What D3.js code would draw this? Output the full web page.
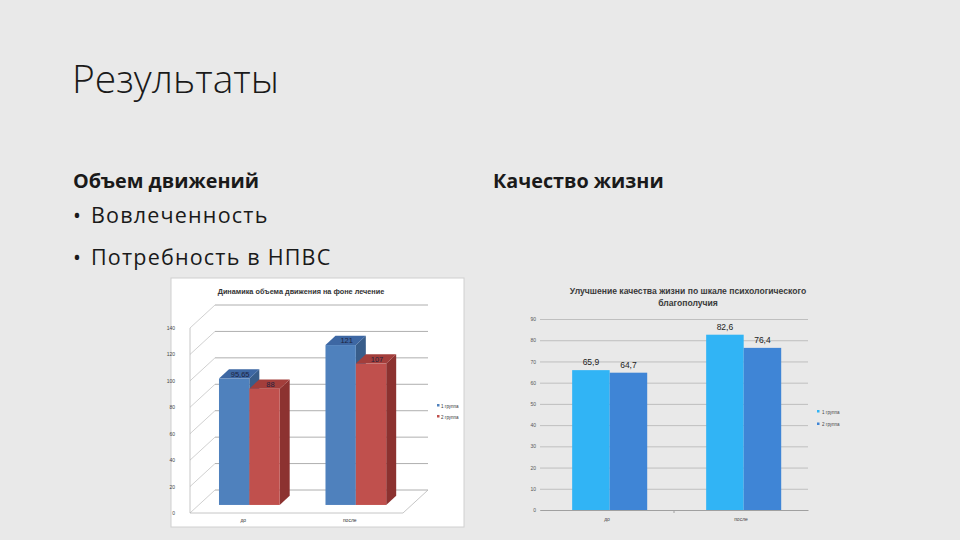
<!DOCTYPE html>
<meta charset="utf-8">
<style>
body { margin: 0; background: #e9e9e9; }
svg { display: block; }
.slide text { font-family: "Open Sans", "Noto Sans", sans-serif; fill: #1a1a1a; }
.chart text { font-family: "Liberation Sans", Arial, sans-serif; }
</style>
<body>
<script src="https://cdnjs.cloudflare.com/ajax/libs/d3/7.8.5/d3.min.js"></script>
<script>

// данные слайда
var categories = ["до", "после"];
var series = ["1 группа", "2 группа"];
// объем движений
var volume1 = [95.65, 121];
var volume2 = [88, 107];
var volumeLabels = ["95,65", "121"];
var volumeLabels2 = ["88", "107"];
var volumeTicks = [0, 20, 40, 60, 80, 100, 120, 140];
// качество жизни
var quality1 = [65.9, 82.6];
var quality2 = [64.7, 76.4];
var qualityLabels1 = ["65,9", "82,6"];
var qualityLabels2 = ["64,7", "76,4"];
var qualityTicks = [0, 10, 20, 30, 40, 50, 60, 70, 80, 90];

var W = 960, H = 540;

const svg = d3.select("body").append("svg")
    .attr("width", W)
    .attr("height", H);

svg.append("rect").attr("width", W).attr("height", H).attr("fill", "#e9e9e9");

// тексты слайда
var slide = svg.append("g").attr("class", "slide");
slide.append("text").attr("x", 72).attr("y", 93)
    .style("font-size", "39px").style("font-weight", 300)
    .text("Результаты");
slide.append("text").attr("x", 73).attr("y", 188)
    .style("font-size", "19.8px").style("font-weight", 700)
    .text("Объем движений");
slide.append("text").attr("x", 493).attr("y", 188)
    .style("font-size", "19.8px").style("font-weight", 700)
    .text("Качество жизни");
[["Вовлеченность", 223], ["Потребность в НПВС", 265]].forEach(function(b) {
    slide.append("text").attr("x", 73).attr("y", b[1])
        .style("font-size", "21px")
        .text("•");
    slide.append("text").attr("x", 91).attr("y", b[1])
        .style("font-size", "21.5px").style("letter-spacing", "1.2px")
        .text(b[0]);
});

// ---------- левая диаграмма (3D) ----------
var left = svg.append("g").attr("class", "chart");
left.append("rect")
    .attr("x", 171).attr("y", 278).attr("width", 293).attr("height", 249)
    .attr("fill", "#fff").attr("stroke", "#d0d0d0");

left.append("text").attr("x", 301).attr("y", 294)
    .attr("text-anchor", "middle")
    .style("font-size", "7.3px").style("font-weight", 700).style("fill", "#333")
    .text("Динамика объема движения на фоне лечение");

// глубина: сдвиг задней стенки
var depthX = 25, depthY = -23;
var y3 = d3.scaleLinear().domain([0, 140]).range([513, 328]);
var x0 = d3.scaleBand().domain(categories).range([190, 403]);
var x1 = d3.scaleBand().domain(series)
    .range([x0.bandwidth() * 0.19, x0.bandwidth() * 0.76]);

function proj(x, v, z) {
    return [x + z * depthX, y3(v) + z * depthY];
}

// пол и стенки
volumeTicks.forEach(function(t) {
    var a = proj(190, t, 0), b = proj(190, t, 1), c = proj(403, t, 1);
    left.append("line")
        .attr("x1", a[0]).attr("y1", a[1]).attr("x2", b[0]).attr("y2", b[1])
        .attr("stroke", "#c4c4c4").attr("stroke-width", 0.8);
    left.append("line")
        .attr("x1", b[0]).attr("y1", b[1]).attr("x2", c[0]).attr("y2", c[1])
        .attr("stroke", "#9a9a9a").attr("stroke-width", 0.8);
    left.append("text")
        .attr("x", 175).attr("y", a[1] + 2)
        .attr("text-anchor", "end")
        .style("font-size", "5px").style("fill", "#444")
        .text(t);
});
var f0 = proj(190, 0, 0), f1 = proj(403, 0, 0), f2 = proj(403, 0, 1), ft = proj(190, 140, 0);
left.append("path")
    .attr("d", "M" + ft + "L" + f0 + "L" + f1 + "L" + f2)
    .attr("fill", "none").attr("stroke", "#b8b8b8").attr("stroke-width", 0.8);

categories.forEach(function(c) {
    left.append("text")
        .attr("x", x0(c) + x0.bandwidth() / 2).attr("y", 522)
        .attr("text-anchor", "middle")
        .style("font-size", "5px").style("fill", "#333")
        .text(c);
});

var zFront = 0.35, zBack = 0.75;
var volColors = [
    {front: "#4f81bd", top: "#3d67a3", side: "#385d8a"},
    {front: "#c0504d", top: "#a33e3b", side: "#8c3230"}
];
var volData = [volume1, volume2];
var volLab = [volumeLabels, volumeLabels2];

categories.forEach(function(c, ci) {
    series.forEach(function(s, si) {
        var v = volData[si][ci];
        var xl = x0(c) + x1(s), xr = xl + x1.bandwidth();
        var p = function(x, val, z) { return proj(x, val, z); };
        var col = volColors[si];
        // правая грань
        left.append("path")
            .attr("d", "M" + p(xr, 0, zFront) + "L" + p(xr, 0, zBack) + "L" + p(xr, v, zBack) + "L" + p(xr, v, zFront) + "Z")
            .attr("fill", col.side);
        // верх
        left.append("path")
            .attr("d", "M" + p(xl, v, zFront) + "L" + p(xl, v, zBack) + "L" + p(xr, v, zBack) + "L" + p(xr, v, zFront) + "Z")
            .attr("fill", col.top);
        // фасад
        var a = p(xl, v, zFront), b = p(xr, 0, zFront);
        left.append("rect")
            .attr("x", a[0]).attr("y", a[1])
            .attr("width", b[0] - a[0]).attr("height", b[1] - a[1])
            .attr("fill", col.front);
    });
});
categories.forEach(function(c, ci) {
    series.forEach(function(s, si) {
        var v = volData[si][ci];
        var xm = x0(c) + x1(s) + x1.bandwidth() / 2;
        var t = proj(xm, v, (zFront + zBack) / 2);
        left.append("text")
            .attr("x", t[0] + 1).attr("y", t[1] + 3)
            .attr("text-anchor", "middle")
            .style("font-size", "7.5px").style("fill", "#1d2340")
            .text(volLab[si][ci]);
    });
});

// легенда
series.forEach(function(s, i) {
    left.append("rect").attr("x", 437).attr("y", 404 + i * 11)
        .attr("width", 2.5).attr("height", 2.5).attr("fill", volColors[i].front);
    left.append("text").attr("x", 441).attr("y", 407.5 + i * 11)
        .style("font-size", "4.5px").style("fill", "#333")
        .text(s);
});

// ---------- правая диаграмма ----------
var right = svg.append("g").attr("class", "chart");
right.append("text").attr("x", 688).attr("y", 294)
    .attr("text-anchor", "middle")
    .style("font-size", "8.6px").style("font-weight", 700).style("fill", "#3a3a3a")
    .text("Улучшение качества жизни по шкале психологического");
right.append("text").attr("x", 688).attr("y", 306)
    .attr("text-anchor", "middle")
    .style("font-size", "8.6px").style("font-weight", 700).style("fill", "#3a3a3a")
    .text("благополучия");

var yq = d3.scaleLinear().domain([0, 90]).range([510, 319]);
var xq0 = d3.scaleBand().domain(categories).range([540, 808]);
var xq1 = d3.scaleBand().domain(series)
    .range([xq0.bandwidth() * 0.24, xq0.bandwidth() * 0.8]);

right.append("g")
    .call(d3.axisLeft(yq).tickValues(qualityTicks).tickSize(-268).tickFormat(d3.format("d")))
    .attr("transform", "translate(540,0)")
    .call(function(g) {
        g.select(".domain").remove();
        g.selectAll(".tick line").attr("stroke", "#b4b4b4").attr("stroke-width", 0.8);
        g.selectAll(".tick text").attr("x", -4).style("font-size", "5px").style("fill", "#555");
    });

right.append("g")
    .attr("transform", "translate(0,510)")
    .call(d3.axisBottom(xq0).tickSize(0))
    .call(function(g) {
        g.select(".domain").attr("stroke", "#a0a0a0");
        g.selectAll(".tick text").attr("dy", "8").style("font-size", "5px").style("fill", "#444");
    });
right.append("line")
    .attr("x1", xq0("после")).attr("x2", xq0("после"))
    .attr("y1", 510).attr("y2", 513).attr("stroke", "#a0a0a0");

var qColors = ["#31b4f5", "#3f85d6"];
var qData = [quality1, quality2];
var qLab = [qualityLabels1, qualityLabels2];
categories.forEach(function(c, ci) {
    series.forEach(function(s, si) {
        var v = qData[si][ci];
        right.append("rect")
            .attr("x", xq0(c) + xq1(s)).attr("y", yq(v))
            .attr("width", xq1.bandwidth()).attr("height", yq(0) - yq(v))
            .attr("fill", qColors[si]);
        right.append("text")
            .attr("x", xq0(c) + xq1(s) + xq1.bandwidth() / 2).attr("y", yq(v) - 5)
            .attr("text-anchor", "middle")
            .style("font-size", "8.5px").style("fill", "#222")
            .text(qLab[si][ci]);
    });
});

series.forEach(function(s, i) {
    right.append("rect").attr("x", 817).attr("y", 410 + i * 12.5)
        .attr("width", 2.5).attr("height", 2.5).attr("fill", qColors[i]);
    right.append("text").attr("x", 822).attr("y", 413.5 + i * 12.5)
        .style("font-size", "4.5px").style("fill", "#444")
        .text(s);
});

</script>
</body>
